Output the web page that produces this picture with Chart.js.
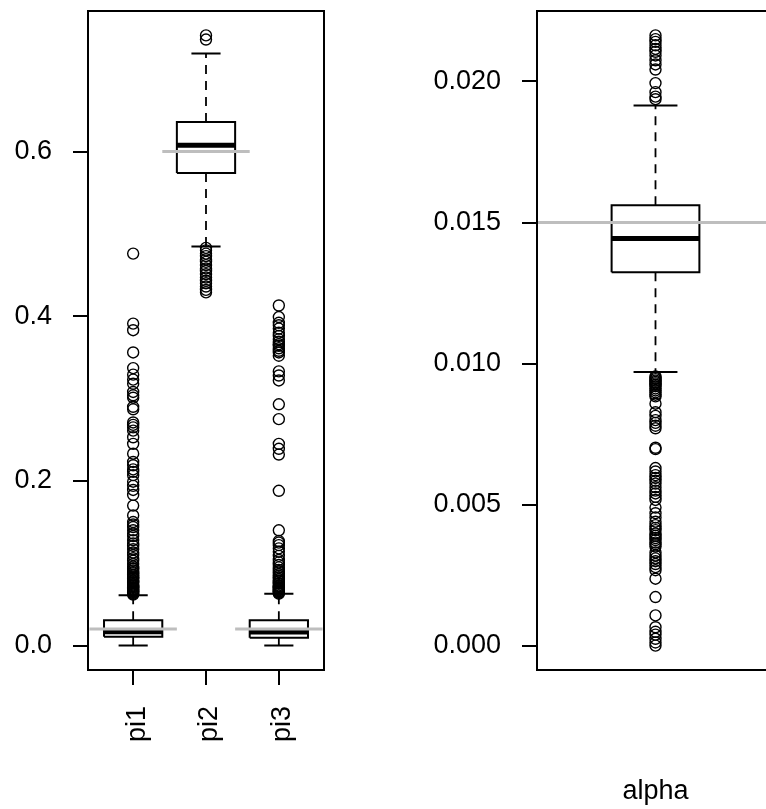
<!DOCTYPE html>
<html>
<head>
<meta charset="utf-8">
<script src="https://cdn.jsdelivr.net/npm/chart.js@4.4.0/dist/chart.umd.min.js"></script>
<style>
html, body { margin: 0; padding: 0; background: #fff; width: 766px; height: 809px; overflow: hidden; }
canvas { position: absolute; top: 0; }
#left { left: 0; }
#right { left: 383px; }
</style>
</head>
<body>
<canvas id="left" width="383" height="809"></canvas>
<canvas id="right" width="400" height="809"></canvas>
<script>
// left panel: pi1..pi3
const piNames = ['pi1', 'pi2', 'pi3'];
const piLower = [0.0, 0.4846, 0.0];
const piQ1 = [0.0107, 0.5739, 0.0095];
const piMedian = [0.0167, 0.6075, 0.0165];
const piQ3 = [0.0309, 0.6358, 0.0309];
const piUpper = [0.0612, 0.719, 0.063];
const piTrue = [0.02, 0.6, 0.02];
const pi1Outliers = [0.476, 0.391, 0.383, 0.356, 0.337, 0.329, 0.323, 0.318, 0.308, 0.304, 0.301,
  0.290, 0.287, 0.271, 0.268, 0.265, 0.261, 0.253, 0.245, 0.233, 0.223, 0.219, 0.214, 0.211, 0.207,
  0.199, 0.194, 0.189, 0.183, 0.170, 0.158, 0.150, 0.147, 0.144, 0.140, 0.136, 0.133, 0.128, 0.124,
  0.121, 0.117, 0.113, 0.110, 0.106, 0.103, 0.099, 0.096, 0.094, 0.093, 0.091, 0.089, 0.088, 0.086,
  0.085, 0.083, 0.082, 0.081, 0.079, 0.078, 0.077, 0.076, 0.074, 0.073, 0.072, 0.071, 0.070, 0.069,
  0.068, 0.067, 0.066, 0.065, 0.064, 0.063, 0.062];
const pi2Outliers = [0.741, 0.736, 0.483, 0.480, 0.476, 0.473, 0.469, 0.466, 0.462, 0.458, 0.455,
  0.451, 0.447, 0.443, 0.440, 0.436, 0.432, 0.429];
const pi3Outliers = [0.413, 0.399, 0.392, 0.389, 0.385, 0.380, 0.376, 0.372, 0.369, 0.366, 0.364,
  0.361, 0.358, 0.356, 0.352, 0.333, 0.328, 0.322, 0.293, 0.275, 0.245, 0.239, 0.232, 0.188, 0.140,
  0.127, 0.125, 0.122, 0.118, 0.114, 0.109, 0.104, 0.101, 0.098, 0.095, 0.092, 0.090, 0.087, 0.085,
  0.083, 0.081, 0.079, 0.078, 0.076, 0.075, 0.073, 0.072, 0.071, 0.070, 0.069, 0.068, 0.067, 0.066,
  0.065, 0.064, 0.063];
const piTicks = [0, 0.2, 0.4, 0.6];

// right panel: alpha
const alphaNames = ['alpha'];
const alphaLower = [0.0097];
const alphaQ1 = [0.01324];
const alphaMedian = [0.01443];
const alphaQ3 = [0.01561];
const alphaUpper = [0.01915];
const alphaTrue = [0.015];
const alphaOutliers = [0.02163, 0.02150, 0.02140, 0.02128, 0.02115, 0.02105, 0.02092, 0.02075,
  0.02060, 0.02042, 0.01994, 0.01962, 0.01946, 0.01937,
  0.00955, 0.00950, 0.00945, 0.00940, 0.00935, 0.00930, 0.00925, 0.00920, 0.00912, 0.00905,
  0.00898, 0.00890, 0.00884, 0.00858, 0.00828, 0.00815, 0.00800, 0.00790, 0.00780, 0.00771,
  0.00702, 0.00697, 0.00630, 0.00618, 0.00605, 0.00595, 0.00585, 0.00575, 0.00562, 0.00550,
  0.00540, 0.00528, 0.00517, 0.00490, 0.00470, 0.00455, 0.00440, 0.00428, 0.00418, 0.00410,
  0.00398, 0.00390, 0.00382, 0.00375, 0.00366, 0.00360, 0.00352, 0.00331, 0.00320, 0.00310,
  0.00300, 0.00290, 0.00279, 0.00268, 0.00238, 0.00173, 0.00108, 0.00066, 0.00050, 0.00040,
  0.00025, 0.00012, 0.00001];
const alphaTicks = [0, 0.005, 0.01, 0.015, 0.02];

Chart.defaults.font.family = '"Liberation Sans", Arial, sans-serif';
Chart.defaults.font.size = 27;
Chart.defaults.color = '#000';

// draws the box round the plot region
const frame = {
  id: 'frame',
  afterDraw(chart) {
    const a = chart.chartArea, c = chart.ctx;
    c.save();
    c.strokeStyle = '#000';
    c.lineWidth = 2;
    c.strokeRect(a.left, a.top, a.right - a.left, a.bottom - a.top);
    c.restore();
  }
};

// polyline pieces joined with null breaks
function path(pieces) {
  const pts = [];
  pieces.forEach(function(p) {
    p.forEach(function(q) { pts.push({x: q[0], y: q[1]}); });
    pts.push({x: p[0][0], y: null});
  });
  return pts;
}

function boxChart(id, p) {
  const n = p.median.length;
  const hw = p.boxWidth / 2, cw = p.boxWidth / 4;
  // R style limits: range padded by 4%
  let all = p.lower.concat(p.upper);
  p.outliers.forEach(function(o) { all = all.concat(o); });
  const lo = Math.min.apply(null, all), hi = Math.max.apply(null, all);
  const yMin = lo - 0.04 * (hi - lo), yMax = hi + 0.04 * (hi - lo);
  const xMin = 0.5 - 0.04 * n, xMax = n + 0.5 + 0.04 * n;

  const boxes = [], whiskers = [], caps = [], medians = [], truth = [], points = [];
  for (let i = 0; i < n; i++) {
    const x = i + 1;
    boxes.push([[x - hw, p.q1[i]], [x + hw, p.q1[i]], [x + hw, p.q3[i]], [x - hw, p.q3[i]], [x - hw, p.q1[i]]]);
    whiskers.push([[x, p.q3[i]], [x, p.upper[i]]], [[x, p.q1[i]], [x, p.lower[i]]]);
    caps.push([[x - cw, p.upper[i]], [x + cw, p.upper[i]]], [[x - cw, p.lower[i]], [x + cw, p.lower[i]]]);
    medians.push([[x - hw, p.median[i]], [x + hw, p.median[i]]]);
    if (p.fullTruth) truth.push([[xMin, p.truth[i]], [xMax, p.truth[i]]]);
    else truth.push([[x - 0.6, p.truth[i]], [x + 0.6, p.truth[i]]]);
    p.outliers[i].forEach(function(v) { points.push({x: x, y: v}); });
  }

  const seg = {showLine: true, pointRadius: 0, borderColor: '#000', spanGaps: false};
  const datasets = [
    Object.assign({}, seg, {data: path(truth), borderColor: '#bebebe', borderWidth: 3, order: 0}),
    Object.assign({}, seg, {data: path(medians), borderWidth: 5, order: 1}),
    Object.assign({}, seg, {data: path(boxes), borderWidth: 2, borderJoinStyle: 'miter', order: 2}),
    Object.assign({}, seg, {data: path(caps), borderWidth: 2, order: 3}),
    Object.assign({}, seg, {data: path(whiskers), borderWidth: 1.8, borderDash: [9, 7], order: 4}),
    {data: points, showLine: false, pointStyle: 'circle', pointRadius: 5.5, borderWidth: 1.4,
     borderColor: '#000', backgroundColor: 'rgba(0,0,0,0)', order: 5}
  ];

  const tickGrid = {display: true, drawOnChartArea: false, drawTicks: true, tickLength: 15, color: '#000', lineWidth: 2};

  const xScale = {
    type: 'linear', min: xMin, max: xMax,
    border: {display: false},
    afterFit: function(s) { s.height = 139; s.paddingLeft = 0; s.paddingRight = 0; }
  };
  if (p.rotatedNames) {
    xScale.afterBuildTicks = function(s) { s.ticks = p.names.map(function(_, i) { return {value: i + 1}; }); };
    xScale.ticks = {autoSkip: false, minRotation: 90, maxRotation: 90, padding: 21, labelOffset: 4,
      callback: function(v) { return p.names[v - 1]; }};
    xScale.grid = tickGrid;
  } else {
    xScale.ticks = {display: false};
    xScale.grid = {display: false};
    xScale.title = {display: true, text: p.names[0], padding: {top: 0, bottom: 1}};
  }

  new Chart(document.getElementById(id), {
    type: 'scatter',
    data: {datasets: datasets},
    options: {
      responsive: false,
      animation: false,
      layout: {padding: {top: 11, left: 0, bottom: 0, right: p.padRight}},
      plugins: {legend: {display: false}, tooltip: {enabled: false}},
      scales: {
        x: xScale,
        y: {
          type: 'linear', min: yMin, max: yMax,
          border: {display: false},
          grid: tickGrid,
          afterBuildTicks: function(s) { s.ticks = p.ticks.map(function(v) { return {value: v}; }); },
          ticks: {padding: 21, callback: function(v) { return v.toFixed(p.digits); }},
          afterFit: function(s) { s.width = p.yWidth; s.paddingTop = 0; s.paddingBottom = 0; }
        }
      }
    },
    plugins: [frame]
  });
}

boxChart('left', {
  names: piNames, lower: piLower, q1: piQ1, median: piMedian, q3: piQ3, upper: piUpper,
  truth: piTrue, outliers: [pi1Outliers, pi2Outliers, pi3Outliers], ticks: piTicks,
  digits: 1, boxWidth: 0.8, fullTruth: false, rotatedNames: true, yWidth: 88, padRight: 59
});

boxChart('right', {
  names: alphaNames, lower: alphaLower, q1: alphaQ1, median: alphaMedian, q3: alphaQ3, upper: alphaUpper,
  truth: alphaTrue, outliers: [alphaOutliers], ticks: alphaTicks,
  digits: 3, boxWidth: 0.4, fullTruth: true, rotatedNames: false, yWidth: 154, padRight: 9
});
</script>
</body>
</html>
